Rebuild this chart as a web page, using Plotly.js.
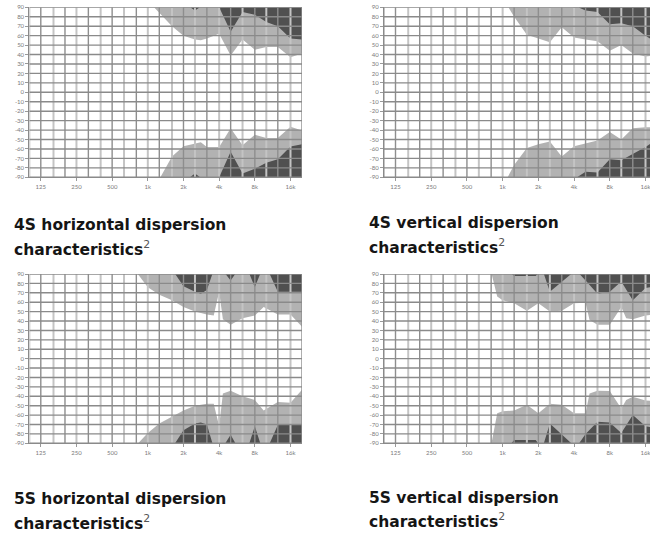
<!DOCTYPE html>
<html><head><meta charset="utf-8">
<script src="https://cdn.plot.ly/plotly-3.0.1.min.js"></script>
<style>html,body{margin:0;padding:0;overflow:hidden;background:#fff;width:650px;height:533px}</style>
</head><body><div id="chart" style="width:660px;height:533px"></div>
<script>
// third-octave grid frequencies (Hz)
const gridFreqs = [100,125,160,200,250,315,400,500,630,800,1000,1250,1600,2000,2500,3150,4000,5000,6300,8000,10000,12500,16000,20000];
const xTickVals = [125,250,500,1000,2000,4000,8000,16000];
const xTickText = ['125','250','500','1k','2k','4k','8k','16k'];
const yTickVals = [90,80,70,60,50,40,30,20,10,0,-10,-20,-30,-40,-50,-60,-70,-80,-90];
const yTickText = ['90','80','70','60','50','40','30','20','10','0','-10','-20','-30','-40','-50','-60','-70','-80','-90'];

// 4S horizontal
const h4UpLightF = [1000,1250,1600,2000,2500,2800,3150,4000,5000,6300,8000,10000,12500,16000,20000];
const h4UpLightV = [97,84,70,60,56,55,57,62,39,56,45,48,48,37,41];
const h4UpDarkF = [2000,2500,3150,4000,5000,6300,8000,10000,12500,16000,20000];
const h4UpDarkV = [95,86.5,95,90,64,85,82,74.5,70,57,56];
const h4LowLightF = [1250,1600,2000,2500,2800,3150,4000,5000,6300,8000,10000,12500,16000,20000];
const h4LowLightV = [-92,-68,-57,-54,-53,-58,-58,-38,-56,-45,-48.5,-48.5,-36.5,-40.5];
const h4LowDarkF = [2000,2500,3150,4000,5000,6300,8000,10000,12500,16000,20000];
const h4LowDarkV = [-95,-86,-95,-90,-63,-86,-81,-74.5,-71,-57.5,-55];

// 4S vertical
const v4UpLightF = [1000,1250,1600,2000,2500,3150,4000,5000,6300,8000,10000,12500,16000,20000];
const v4UpLightV = [100,80,61,57,53,69,58,56,54,44,50,41,38,39];
const v4UpDarkF = [4000,5000,6300,8000,10000,12500,16000,20000];
const v4UpDarkV = [92,86.5,85,72,73,70,60,52];
const v4LowLightF = [1000,1250,1600,2000,2500,3150,4000,5000,6300,8000,10000,12500,16000,20000];
const v4LowLightV = [-100,-77,-59,-55,-52,-68,-57,-54,-51,-42,-50,-38,-37,-37];
const v4LowDarkF = [4000,5000,6300,8000,10000,12500,16000,20000];
const v4LowDarkV = [-92,-84,-85,-71,-72,-65,-58,-50];

// 5S horizontal
const h5UpLightF = [800,1000,1250,1600,2000,2500,3150,3600,4000,4300,5000,6300,8000,9500,12500,16000,20000];
const h5UpLightV = [92,76,68,62,55,50,47,46,71,42,36,43,46,55,47,47,34];
const h5UpDarkF = [1600,2000,2500,2800,3150,3550,4400,5000,5600,7100,8000,9000,10500,12500,16000,20000];
const h5UpDarkV = [95,77,71,69,73,92,92,83,92,92,76,92,92,71,71,71];
const h5LowLightF = [800,1000,1250,1600,2000,2500,3150,3600,4000,4300,5000,6300,8000,9500,12500,16000,20000];
const h5LowLightV = [-92,-79,-69,-62,-55,-50,-48,-48,-72,-37,-34,-40,-44,-55,-46,-47,-33];
const h5LowDarkF = [1600,2000,2500,2800,3150,3550,4400,5000,5600,7100,8000,9000,10500,12500,16000,20000];
const h5LowDarkV = [-95,-76,-69,-68,-70,-92,-92,-81,-92,-92,-72,-92,-92,-70.5,-69.5,-69.5];

// 5S vertical
const v5UpLightF = [800,900,1000,1250,1600,2000,2500,3150,4000,5000,5400,6300,8000,10000,11000,12500,16000,20000];
const v5UpLightV = [92,66,62,59,51,59,50,51,59,59.5,41,36,36,55,43,42,46,47];
const v5UpDarkF = [1150,1250,1900,2050,2200,2500,3950,4300,5000,6300,8000,10000,12500,16000,20000];
const v5UpDarkV = [92,88,88,92,92,71,92,92,83,69,71,82,62,75,77];
const v5LowLightF = [800,900,1000,1250,1600,2000,2500,3150,4000,5000,5400,6300,8000,10000,11000,12500,16000,20000];
const v5LowLightV = [-92,-58,-56,-55,-49,-58,-48,-49,-58,-58,-37,-34,-34.5,-53,-44,-40.5,-44.5,-45.5];
const v5LowDarkF = [1150,1250,1900,2050,2200,2500,3950,4300,5000,6300,8000,10000,12500,16000,20000];
const v5LowDarkV = [-92,-86.5,-86.5,-92,-92,-69,-92,-92,-80,-67,-68,-79,-60,-72,-74];

const titleLine1 = ['4S horizontal dispersion', '4S vertical dispersion', '5S horizontal dispersion', '5S vertical dispersion'];
const titleLine2 = 'characteristics';

const LIGHT = '#b2b2b2', DARK = '#505050';
const W = 660, H = 533;
const charts = [
  {ax:'', regions:[[h4UpLightF,h4UpLightV,90,LIGHT],[h4LowLightF,h4LowLightV,-90,LIGHT],[h4UpDarkF,h4UpDarkV,90,DARK],[h4LowDarkF,h4LowDarkV,-90,DARK]]},
  {ax:'2', regions:[[v4UpLightF,v4UpLightV,90,LIGHT],[v4LowLightF,v4LowLightV,-90,LIGHT],[v4UpDarkF,v4UpDarkV,90,DARK],[v4LowDarkF,v4LowDarkV,-90,DARK]]},
  {ax:'3', regions:[[h5UpLightF,h5UpLightV,90,LIGHT],[h5LowLightF,h5LowLightV,-90,LIGHT],[h5UpDarkF,h5UpDarkV,90,DARK],[h5LowDarkF,h5LowDarkV,-90,DARK]]},
  {ax:'4', regions:[[v5UpLightF,v5UpLightV,90,LIGHT],[v5LowLightF,v5LowLightV,-90,LIGHT],[v5UpDarkF,v5UpDarkV,90,DARK],[v5LowDarkF,v5LowDarkV,-90,DARK]]}
];

const traces = [];
charts.forEach(c => {
  const xa = 'x' + c.ax, ya = 'y' + c.ax;
  c.regions.forEach(([f, v, edge, col]) => {
    traces.push({x:f, y:f.map(() => edge), xaxis:xa, yaxis:ya, mode:'lines', line:{width:0, color:col}, hoverinfo:'skip', showlegend:false});
    traces.push({x:f, y:v, xaxis:xa, yaxis:ya, mode:'lines', line:{width:0, color:col}, fill:'tonexty', fillcolor:col, hoverinfo:'skip', showlegend:false});
  });
  // grid drawn over the fills
  const vx1 = [], vy1 = [], vx2 = [], vy2 = [];
  gridFreqs.forEach((f, i) => {
    if (i % 2 === 1) { vx1.push(f, f, null); vy1.push(-90, 90, null); }
    else { vx2.push(f, f, null); vy2.push(-90, 90, null); }
  });
  traces.push({x:vx2, y:vy2, xaxis:xa, yaxis:ya, mode:'lines', line:{width:2, color:'#c4c4c4'}, hoverinfo:'skip', showlegend:false});
  traces.push({x:vx1, y:vy1, xaxis:xa, yaxis:ya, mode:'lines', line:{width:1.4, color:'#8e8e8e'}, hoverinfo:'skip', showlegend:false});
  const hx = [], hy = [];
  yTickVals.forEach(v => { hx.push(gridFreqs[0], gridFreqs[gridFreqs.length-1], null); hy.push(v, v, null); });
  traces.push({x:hx, y:hy, xaxis:xa, yaxis:ya, mode:'lines', line:{width:1.4, color:'#8a8a8a'}, hoverinfo:'skip', showlegend:false});
});

const tickFont = {family:'Lato, sans-serif', size:6, color:'#7a7a7a'};
function xAxis(dom, anchor) {
  return {type:'log', range:[Math.log10(100), Math.log10(20000)], domain:dom, anchor:anchor,
    tickvals:xTickVals, ticktext:xTickText, ticks:'outside', ticklen:3, tickcolor:'#999', tickfont:tickFont,
    showgrid:false, zeroline:false, showline:true, linecolor:'#8a8a8a', linewidth:1, fixedrange:true};
}
function yAxis(dom, anchor) {
  return {range:[-90, 90], domain:dom, anchor:anchor, tickvals:yTickVals, ticktext:yTickText,
    ticks:'outside', ticklen:3, tickcolor:'#999', tickfont:tickFont,
    showgrid:false, zeroline:false, showline:true, linecolor:'#8a8a8a', linewidth:1, fixedrange:true};
}
const xL = [29.3/W, 302/W], xR = [384/W, 657/W];
const yT = [(H-177.3)/H, (H-7.3)/H], yB = [(H-443.3)/H, (H-274)/H];

const titleFont = {family:'"DejaVu Sans", sans-serif', size:15.5, color:'#151515', weight:'bold'};
const sup = '<span style="font-weight:normal;color:#555"><sup>2</sup></span>';
// [left px, line-1 centre px, line-2 centre px]
const titlePos = [[12, 225, 248], [367, 223, 247], [12, 499, 522], [367, 498, 520]];
const annotations = [];
titleLine1.forEach((t, i) => {
  const [lx, y1, y2] = titlePos[i];
  annotations.push({text:t, xref:'paper', yref:'paper', x:lx/W, y:(H-y1)/H,
    xanchor:'left', yanchor:'middle', align:'left', showarrow:false, font:titleFont});
  annotations.push({text:titleLine2 + sup, xref:'paper', yref:'paper', x:lx/W, y:(H-y2)/H,
    xanchor:'left', yanchor:'middle', align:'left', showarrow:false, font:titleFont});
});

const layout = {
  width:W, height:H, margin:{l:0, r:0, t:0, b:0}, paper_bgcolor:'#fff', plot_bgcolor:'#fff',
  showlegend:false,
  xaxis:xAxis(xL,'y'), yaxis:yAxis(yT,'x'),
  xaxis2:xAxis(xR,'y2'), yaxis2:yAxis(yT,'x2'),
  xaxis3:xAxis(xL,'y3'), yaxis3:yAxis(yB,'x3'),
  xaxis4:xAxis(xR,'y4'), yaxis4:yAxis(yB,'x4'),
  annotations: annotations
};
Plotly.newPlot('chart', traces, layout, {displayModeBar:false, staticPlot:true});
</script></body></html>
